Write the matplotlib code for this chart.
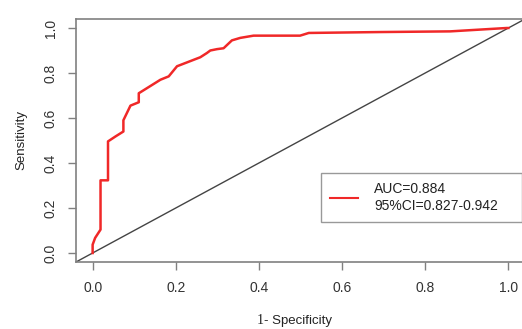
import numpy as np
import matplotlib.pyplot as plt
from matplotlib.lines import Line2D

plt.rcParams['font.family'] = ['Liberation Sans', 'DejaVu Sans']

# ROC curve
fpr = [0, 0, 0.006, 0.019, 0.019, 0.037, 0.037, 0.055, 0.074, 0.074, 0.091, 0.111,
       0.111, 0.131, 0.163, 0.183, 0.203, 0.259, 0.275, 0.283, 0.299, 0.315, 0.335,
       0.355, 0.387, 0.499, 0.52, 0.691, 0.86, 0.996, 1.0]
tpr = [0, 0.037, 0.067, 0.104, 0.323, 0.323, 0.496, 0.518, 0.54, 0.59, 0.655, 0.67,
       0.71, 0.733, 0.77, 0.785, 0.83, 0.87, 0.889, 0.90, 0.906, 0.91, 0.945,
       0.956, 0.966, 0.966, 0.978, 0.982, 0.985, 1.0, 1.0]
ticks = [0.0, 0.2, 0.4, 0.6, 0.8, 1.0]
tick_labels = ['0.0', '0.2', '0.4', '0.6', '0.8', '1.0']
legend_label = 'AUC=0.884\n95%CI=0.827-0.942'

fig = plt.figure(figsize=(5.22, 3.29), dpi=100)
ax = fig.add_axes([76 / 522, (329 - 262) / 329, (525 - 76) / 522, 243 / 329])

ax.axline((0, 0), slope=1, color='#444444', lw=1.0)
ax.plot(fpr, tpr, color='#f02828', lw=1.8)

ax.set_xlim(-0.04, 1.04)
ax.set_ylim(-0.04, 1.04)
ax.set_xticks(ticks)
ax.set_xticklabels(tick_labels)
ax.set_yticks(ticks)
ax.set_yticklabels(tick_labels, rotation=90, va='center')

for s in ax.spines.values():
    s.set_color('#808080')
    s.set_linewidth(1.2)
ax.tick_params(axis='both', colors='#808080', labelcolor='#333333', length=6,
               width=1.0, labelsize=10, pad=8)
ax.tick_params(axis='y', pad=7)

ax.set_ylabel('Sensitivity', fontsize=9.5, color='#222222', labelpad=12)
fig.text(257 / 522, 1 - 321 / 329, '1', family='Liberation Serif',
         fontsize=10, color='#222222', ha='left', va='center')
fig.text(264 / 522, 1 - 321 / 329, '- Specificity', fontsize=9.5,
         color='#222222', ha='left', va='center')

handle = Line2D([], [], color='#f02828', lw=1.5)
leg = ax.legend([handle], [legend_label], loc='upper left',
                bbox_to_anchor=(0.545, 0.0, 0.448, 0.365), mode='expand',
                borderaxespad=0, fancybox=False, fontsize=10, handlelength=2.0,
                handletextpad=1.2, borderpad=0.65, labelspacing=0.2)
leg.get_frame().set_edgecolor('#808080')
leg.get_frame().set_linewidth(1.0)
for t in leg.get_texts():
    t.set_color('#222222')
    t.set_multialignment('left')

fig.savefig('out.png', dpi=100)
